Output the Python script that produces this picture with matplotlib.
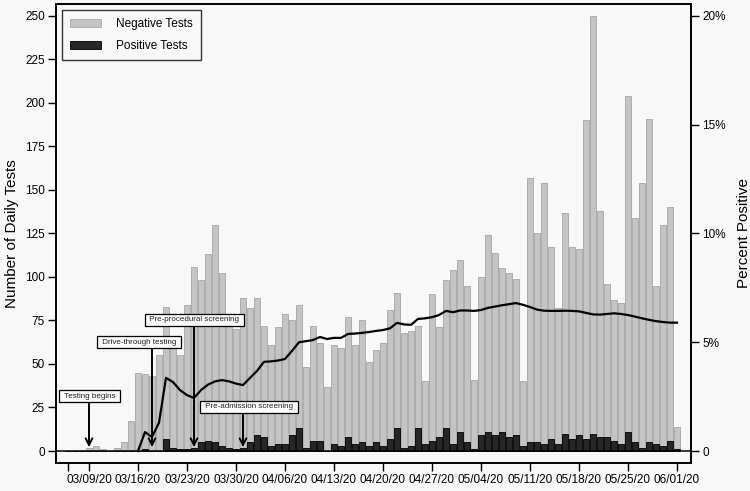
import matplotlib
matplotlib.use('Agg')
import matplotlib.pyplot as plt
import matplotlib.dates as mdates
import pandas as pd

plt.rcParams['font.family'] = ['Liberation Sans', 'DejaVu Sans']

# daily counts, 03/06/20 through 06/01/20
dates = pd.date_range('2020-03-06', '2020-06-01', freq='D')

negative = [0, 0, 0,
            2, 3, 1, 0, 2, 5, 17,
            45, 44, 43, 55, 83, 65, 55,
            84, 106, 98, 113, 130, 102, 75,
            70, 88, 82, 88, 72, 61, 71,
            79, 75, 84, 48, 72, 62, 37,
            61, 59, 77, 61, 75, 51, 58,
            62, 81, 91, 68, 69, 72, 40,
            90, 71, 98, 104, 110, 95, 41,
            100, 124, 114, 105, 102, 99, 40,
            157, 125, 154, 117, 82, 137, 117,
            116, 190, 250, 138, 96, 87, 85,
            204, 134, 154, 191, 95, 130, 140,
            14]

positive = [0, 0, 0,
            0, 0, 0, 0, 0, 0, 0,
            0, 1, 0, 0, 7, 2, 1,
            1, 2, 5, 6, 5, 3, 2,
            1, 2, 5, 9, 8, 3, 4,
            4, 9, 13, 2, 6, 6, 0,
            4, 3, 8, 4, 5, 3, 5,
            3, 7, 13, 2, 3, 13, 4,
            6, 8, 13, 4, 11, 5, 1,
            9, 11, 9, 11, 8, 9, 3,
            5, 5, 4, 7, 4, 10, 7,
            9, 7, 10, 8, 8, 6, 4,
            11, 5, 2, 5, 4, 3, 6,
            1]

pct_positive = [0, 0, 0,
                0, 0, 0, 0, 0, 0, 0,
                0, 0.87, 0.64, 1.3, 3.36, 3.17, 2.8,
                2.57, 2.44, 2.8, 3.05, 3.2, 3.26, 3.2,
                3.1, 3.03, 3.36, 3.68, 4.1, 4.12, 4.16,
                4.23, 4.6, 5.0, 5.05, 5.1, 5.24, 5.15,
                5.2, 5.2, 5.38, 5.4, 5.43, 5.47, 5.52,
                5.56, 5.64, 5.89, 5.82, 5.8, 6.07, 6.1,
                6.15, 6.25, 6.44, 6.38, 6.46, 6.46, 6.44,
                6.48, 6.58, 6.64, 6.7, 6.75, 6.8, 6.72,
                6.62, 6.5, 6.45, 6.44, 6.44, 6.45, 6.44,
                6.42, 6.35, 6.28, 6.27, 6.3, 6.33, 6.3,
                6.25, 6.18, 6.1, 6.03, 5.97, 5.93, 5.9,
                5.9]

week_ticks = pd.date_range('2020-03-09', '2020-06-01', freq='7D')

events = ['Testing begins', 'Drive-through testing',
          'Pre-procedural screening', 'Pre-admission screening']
event_dates = pd.to_datetime(['2020-03-09', '2020-03-18', '2020-03-24', '2020-03-31'])

bg = '#f8f8f8'
fig = plt.figure(figsize=(7.5, 4.91), dpi=100, facecolor=bg)
ax = fig.add_axes([0.0747, 0.057, 0.8466, 0.935])
ax.set_facecolor(bg)

x = mdates.date2num(dates)
ax.bar(x, negative, width=0.8, color='#c4c4c4', edgecolor='#a6a6a6',
       linewidth=0.6, label='Negative Tests', zorder=2)
ax.bar(x, positive, width=0.8, color='#262626', edgecolor='black',
       linewidth=0.6, label='Positive Tests', zorder=3)
ax.axhline(0, color='black', lw=1.1, zorder=4)

ax.set_ylim(-6.9, 256.9)
ax.set_yticks(range(0, 251, 25))
ax.set_ylabel('Number of Daily Tests', fontsize=11, labelpad=4)

x0 = mdates.date2num(pd.Timestamp('2020-03-09'))
ax.set_xlim(x0 - 4.71, x0 + 86.0)
ticks = [mdates.date2num(pd.Timestamp('2020-03-06'))] + list(mdates.date2num(week_ticks))
labels = [''] + [d.strftime('%m/%d/%y') for d in week_ticks]
ax.set_xticks(ticks)
ax.set_xticklabels(labels)

for side in ['left', 'right', 'top', 'bottom']:
    ax.spines[side].set_linewidth(1.2)
ax.tick_params(axis='both', length=6, width=1, labelsize=8.5, direction='out', pad=2)

leg = ax.legend(loc='upper left', fontsize=8.5, frameon=True, fancybox=False,
                edgecolor='#333333', facecolor=bg, framealpha=1,
                handlelength=2.6, handleheight=0.6, handletextpad=1.3,
                borderpad=0.7, labelspacing=0.85, borderaxespad=0.5)
leg.get_frame().set_linewidth(1.0)

# event annotations
box_y = [31.6, 62.6, 75.3, 25.3]
box_dx = [0.07, -1.86, 0.07, 0.86]
tail_y = [27.6, 58.6, 71.3, 21.3]
for name, d, by, dx, ty in zip(events, event_dates, box_y, box_dx, tail_y):
    xd = mdates.date2num(d)
    ax.annotate('', xy=(xd, 2.2), xytext=(xd, ty),
                arrowprops=dict(arrowstyle='->', lw=1.4, color='black',
                                mutation_scale=12, shrinkA=0, shrinkB=0),
                zorder=6)
    ax.text(xd + dx, by, ' ' + name + ' ', ha='center', va='center', fontsize=5.8,
            color='#222222', zorder=7,
            bbox=dict(boxstyle='square,pad=0.33', fc='#fbfbfb', ec='black', lw=0.9))

ax2 = ax.twinx()
ax2.plot(x[10:], pct_positive[10:], color='black', lw=1.6, zorder=5)
ax2.set_ylim(-0.552, 20.552)
ax2.set_yticks([0, 5, 10, 15, 20])
ax2.set_yticklabels(['0', '5%', '10%', '15%', '20%'])
ax2.set_ylabel('Percent Positive', fontsize=11, labelpad=8)
ax2.tick_params(axis='y', length=6, width=1, labelsize=8.5, pad=2)
for side in ['left', 'right', 'top', 'bottom']:
    ax2.spines[side].set_linewidth(1.2)

fig.savefig('out.png', dpi=100, facecolor=bg)
plt.close('all')
